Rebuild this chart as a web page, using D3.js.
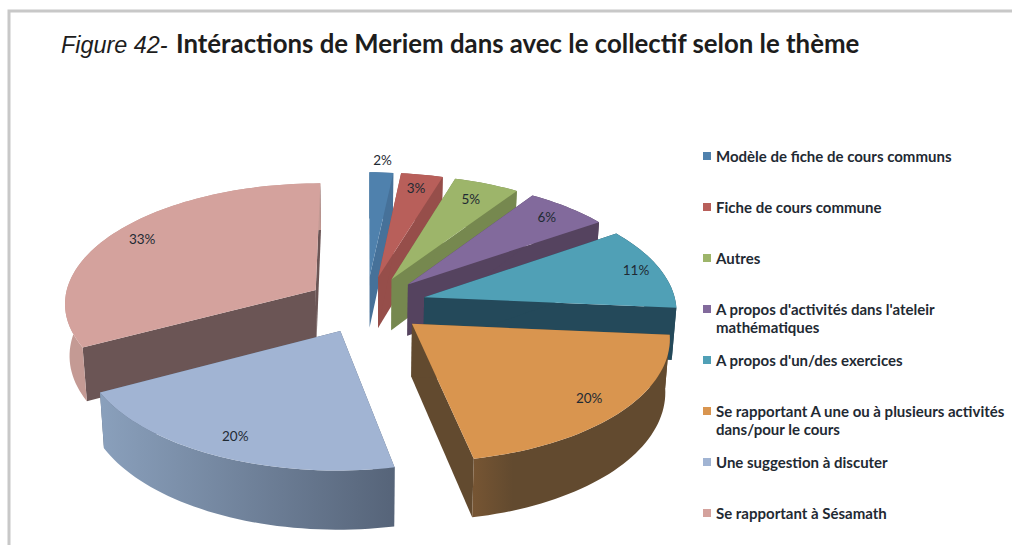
<!DOCTYPE html>
<html>
<head>
<meta charset="utf-8">
<script src="https://cdn.jsdelivr.net/npm/d3@7"></script>
<style>
html, body { margin: 0; padding: 0; background: #fff; }
svg { display: block; }
</style>
</head>
<body>
<div id="chart"></div>
<script>
var categories = [
    "Modèle de fiche de cours communs",
    "Fiche de cours commune",
    "Autres",
    "A propos d'activités dans l'ateleir mathématiques",
    "A propos d'un/des exercices",
    "Se rapportant A une ou à plusieurs activités dans/pour le cours",
    "Une suggestion à discuter",
    "Se rapportant à Sésamath"
];
// unrounded shares, the labels round them
var values = [1.7, 3.0, 4.7, 6.0, 11.0, 20.4, 20.45, 32.75];
var legendLines = [
    ["Modèle de fiche de cours communs"],
    ["Fiche de cours commune"],
    ["Autres"],
    ["A propos d'activités dans l'ateleir", "mathématiques"],
    ["A propos d'un/des exercices"],
    ["Se rapportant A une ou à plusieurs activités", "dans/pour le cours"],
    ["Une suggestion à discuter"],
    ["Se rapportant à Sésamath"]
];
var topColors = ["#4f81ad", "#b85f5a", "#9db56a", "#826a9c", "#50a0b6", "#d9954f", "#a1b4d3", "#d4a29d"];
var wallColors = ["#467199", "#964e4a", "#76884f", "#55435f", "#24495a", "#765533", "#8aa0bc", "#c49a94"];
var wallDark = ["#467199", "#964e4a", "#76884f", "#55435f", "#24495a", "#624a2f", "#566479", "#c49a94"];
var cutColors = ["#467199", "#964e4a", "#76884f", "#55435f", "#24495a", "#624a2f", "#566479", "#6b5555"];

var width = 1012, height = 545;

// projection of the tilted pie: u to the right, v towards the viewer
var cx = 366.5, cy = 304.5, scaleX = 252, scaleY = 120, persp = 0.1, depth = 52, explode = 0.238;

function project(u, v, z) {
    var g = 1 / (1 - persp * v);
    var gx = z ? g * 0.985 : g;
    return [cx + scaleX * u * gx, cy + scaleY * v * g + (z ? depth * g : 0)];
}

var svg = d3.select("#chart").append("svg")
    .attr("width", width)
    .attr("height", height)
    .style("font-family", "Lato, sans-serif");

// frame of the pasted figure
svg.append("path")
    .attr("d", "M9,545V11H1012")
    .attr("fill", "none")
    .attr("stroke", "#c8c8c8")
    .attr("stroke-width", 3);

var title = svg.append("text").attr("y", 53).attr("fill", "#1d1d1d");
title.append("tspan")
    .attr("x", 61)
    .attr("font-family", "Liberation Sans, Arial, sans-serif")
    .attr("font-style", "italic")
    .attr("font-size", 23.4)
    .text("Figure 42-");
title.append("tspan")
    .attr("x", 176)
    .attr("font-weight", "bold")
    .attr("font-size", 25.8)
    .text("Intéractions de Meriem dans avec le collectif selon le thème");

var pie = d3.pie().sort(null).value(function (d) { return d; }).startAngle(0).endAngle(2 * Math.PI);
var slices = pie(values);

var line = d3.line();
var defs = svg.append("defs");

function rimPoints(d, z) {
    var mid = (d.startAngle + d.endAngle) / 2;
    var ox = explode * Math.sin(mid), oy = -explode * Math.cos(mid);
    var n = Math.max(2, Math.ceil((d.endAngle - d.startAngle) / 0.03));
    return d3.range(n + 1).map(function (i) {
        var a = d.startAngle + (d.endAngle - d.startAngle) * i / n;
        return project(ox + Math.sin(a), oy - Math.cos(a), z);
    });
}

function apex(d, z) {
    var mid = (d.startAngle + d.endAngle) / 2;
    return project(explode * Math.sin(mid), -explode * Math.cos(mid), z);
}

// back slices first, then pink, blue-grey and orange in front
var drawOrder = [0, 1, 2, 3, 4, 7, 6, 5];
var pieG = svg.append("g");

drawOrder.forEach(function (i) {
    var d = slices[i];
    var top = rimPoints(d, false), bottom = rimPoints(d, true);
    var a0 = apex(d, false), a1 = apex(d, true);
    var g = pieG.append("g");

    // gradient along the outer wall
    var gradId = "wall" + i;
    var xs = d3.extent(top, function (p) { return p[0]; });
    var grad = defs.append("linearGradient")
        .attr("id", gradId)
        .attr("gradientUnits", "userSpaceOnUse")
        .attr("x1", xs[0]).attr("x2", xs[1]).attr("y1", 0).attr("y2", 0);
    grad.append("stop").attr("offset", 0).attr("stop-color", wallColors[i]);
    grad.append("stop").attr("offset", i === 5 ? 0.2 : 1).attr("stop-color", wallDark[i]);

    // end wall, start wall
    g.append("path")
        .attr("d", line([a0, top[top.length - 1], bottom[bottom.length - 1], a1]) + "Z")
        .attr("fill", cutColors[i]);
    g.append("path")
        .attr("d", line([a0, top[0], bottom[0], a1]) + "Z")
        .attr("fill", cutColors[i]);
    g.append("path")
        .attr("d", line(top.concat(bottom.slice().reverse())) + "Z")
        .attr("fill", "url(#" + gradId + ")");
    g.append("path")
        .attr("d", line([a0].concat(top)) + "Z")
        .attr("fill", topColors[i]);
});

// data labels, radius along each slice's middle
var labelRadius = [1.12, 0.85, 0.82, 0.86, 0.90, 0.86, 0.86, 0.86];
var labelFormat = d3.format(".0f");

function labelPos(d, i) {
    var mid = (d.startAngle + d.endAngle) / 2;
    var r = explode + labelRadius[i];
    return project(r * Math.sin(mid), -r * Math.cos(mid), false);
}

svg.append("g").selectAll("text").data(slices).enter().append("text")
    .attr("x", function (d, i) { return labelPos(d, i)[0]; })
    .attr("y", function (d, i) { return labelPos(d, i)[1] + 4; })
    .attr("text-anchor", "middle")
    .attr("font-size", 13.5)
    .attr("fill", "#1f2a33")
    .text(function (d) { return labelFormat(d.data) + "%"; });

// legend
var legendY = d3.scalePoint()
    .domain(categories)
    .range([157, 514]);
var legendRows = svg.append("g").selectAll("g").data(categories).enter().append("g")
    .attr("transform", function (d) { return "translate(703," + legendY(d) + ")"; });
legendRows.append("rect")
    .attr("x", 0).attr("y", -5).attr("width", 8).attr("height", 8)
    .attr("fill", function (d, i) { return topColors[i]; });
legendRows.each(function (d, i) {
    d3.select(this).selectAll("text").data(legendLines[i]).enter().append("text")
        .attr("x", 13)
        .attr("y", function (t, j) { return 5 + j * 18; })
        .attr("font-size", 15)
        .attr("font-weight", "bold")
        .attr("fill", "#1f2a33")
        .text(function (t) { return t; });
});
</script>
</body>
</html>
